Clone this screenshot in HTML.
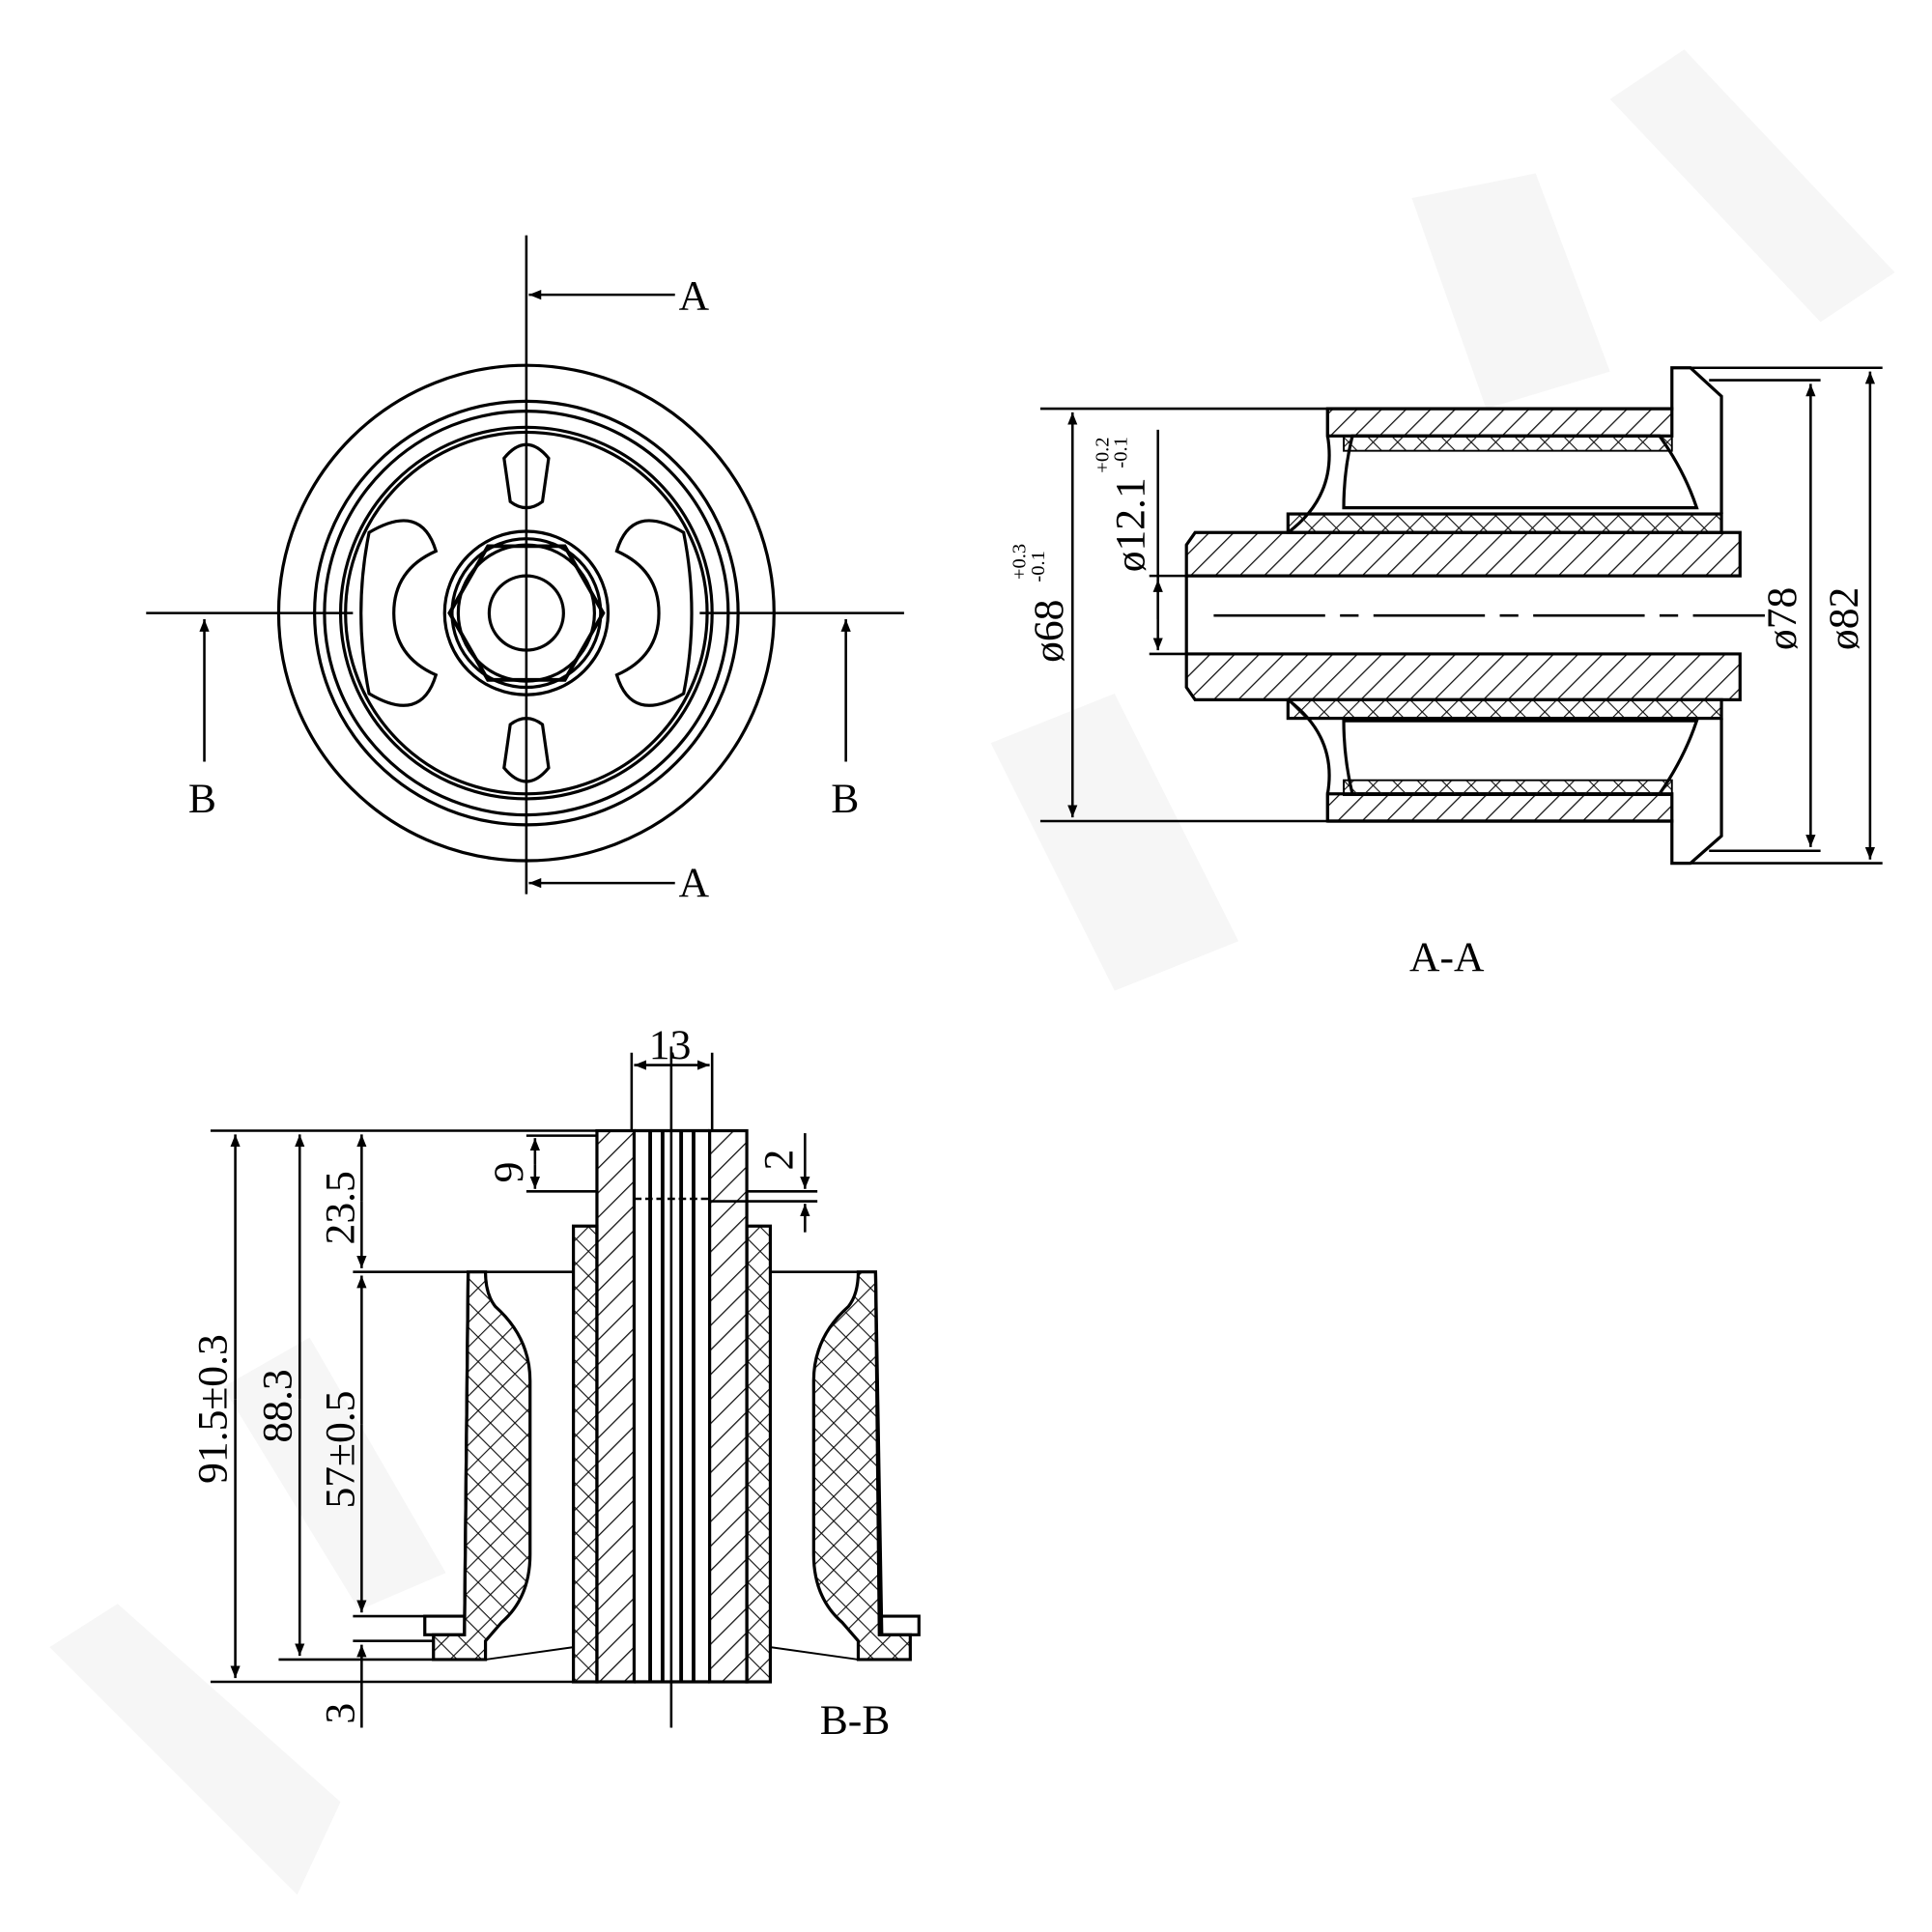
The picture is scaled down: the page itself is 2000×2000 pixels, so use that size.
<!DOCTYPE html>
<html><head><meta charset="utf-8"><style>html,body{margin:0;padding:0;background:#fff}svg{display:block}</style></head>
<body>
<svg width="2000" height="2000" viewBox="0 0 1560 1560" xmlns="http://www.w3.org/2000/svg" font-family="Liberation Serif, serif">
<defs>
<pattern id="h" width="14" height="14" patternUnits="userSpaceOnUse" patternTransform="rotate(45)"><line x1="0" y1="0" x2="0" y2="14" stroke="#111" stroke-width="2"/></pattern>
<pattern id="x" width="14" height="14" patternUnits="userSpaceOnUse" patternTransform="rotate(45)"><line x1="0" y1="0" x2="0" y2="14" stroke="#111" stroke-width="1.8"/><line x1="0" y1="0" x2="14" y2="0" stroke="#111" stroke-width="1.8"/></pattern>
<marker id="ar" markerWidth="10" markerHeight="8" refX="10" refY="4" orient="auto" markerUnits="userSpaceOnUse"><path d="M0,0 L10,4 L0,8Z" fill="#000"/></marker>
</defs>
<rect width="1560" height="1560" fill="#fff"/>
<!-- watermark -->
<g fill="#f6f6f6">
<polygon points="40,1330 95,1295 275,1455 240,1530"/>
<polygon points="180,1120 250,1080 360,1270 290,1300"/>
<polygon points="1300,80 1360,40 1530,220 1470,260"/>
<polygon points="800,600 900,560 1000,760 900,800"/>
<polygon points="1140,160 1240,140 1300,300 1200,330"/>
</g>
<g stroke="#000" fill="none" stroke-width="2.5">
<!-- FRONT VIEW -->
<circle cx="425" cy="495" r="200"/>
<circle cx="425" cy="495" r="171"/>
<circle cx="425" cy="495" r="163"/>
<circle cx="425" cy="495" r="150"/>
<circle cx="425" cy="495" r="146"/>
<polygon points="487,495 456,549 394,549 363,495 394,441 456,441" stroke-width="3"/>
<circle cx="425" cy="495" r="66"/>
<circle cx="425" cy="495" r="60"/>
<circle cx="425" cy="495" r="55"/>
<circle cx="425" cy="495" r="30"/>
<path d="M407,370 Q425,348 443,370 L438,405 Q425,415 412,405Z"/>
<path d="M407,620 Q425,642 443,620 L438,585 Q425,575 412,585Z"/>
<path d="M298,430 Q340,405 352,445 Q318,460 318,495 Q318,530 352,545 Q340,585 298,560 Q285,495 298,430Z"/>
<path d="M552,430 Q510,405 498,445 Q532,460 532,495 Q532,530 498,545 Q510,585 552,560 Q565,495 552,430Z"/>
<line x1="425" y1="190" x2="425" y2="722" stroke-width="2"/>
<line x1="118" y1="495" x2="285" y2="495" stroke-width="2"/>
<line x1="565" y1="495" x2="730" y2="495" stroke-width="2"/>
<line x1="545" y1="238" x2="427" y2="238" stroke-width="2" marker-end="url(#ar)"/>
<line x1="545" y1="713" x2="427" y2="713" stroke-width="2" marker-end="url(#ar)"/>
<line x1="165" y1="615" x2="165" y2="500" stroke-width="2" marker-end="url(#ar)"/>
<line x1="683" y1="615" x2="683" y2="500" stroke-width="2" marker-end="url(#ar)"/>

<!-- A-A SECTION -->
<path d="M1072,330 L1350,330 L1350,297 L1365,297 L1390,320 L1390,415"/>
<path d="M1072,663 L1350,663 L1350,697 L1365,697 L1390,675 L1390,580"/>
<line x1="1072" y1="330" x2="1072" y2="352"/>
<line x1="1072" y1="641" x2="1072" y2="663"/>
<rect x="1072" y="330" width="278" height="22" fill="url(#h)"/>
<rect x="1072" y="641" width="278" height="22" fill="url(#h)"/>
<path d="M1092,352 L1340,352 Q1360,380 1370,410 L1085,410 Q1085,380 1092,352Z"/>
<path d="M1092,641 L1340,641 Q1360,612 1370,582 L1085,582 Q1085,612 1092,641Z"/>
<path d="M1072,352 Q1080,400 1040,430"/>
<path d="M1072,641 Q1080,595 1040,565"/>
<rect x="1040" y="415" width="350" height="15" fill="url(#x)"/>
<rect x="1040" y="565" width="350" height="15" fill="url(#x)"/>
<rect x="1085" y="352" width="265" height="12" fill="url(#x)" stroke-width="1.5"/>
<rect x="1085" y="630" width="265" height="12" fill="url(#x)" stroke-width="1.5"/>
<path d="M958,440 L965,430 L1405,430 L1405,465 L958,465Z" fill="url(#h)"/>
<path d="M958,528 L1405,528 L1405,565 L965,565 L958,555Z" fill="url(#h)"/>
<line x1="958" y1="465" x2="958" y2="528"/>
<line x1="980" y1="497" x2="1425" y2="497" stroke-width="2" stroke-dasharray="90,12,15,12"/>
<line x1="840" y1="330" x2="1072" y2="330" stroke-width="2"/>
<line x1="840" y1="663" x2="1072" y2="663" stroke-width="2"/>
<line x1="866" y1="500" x2="866" y2="333" stroke-width="2" marker-end="url(#ar)"/>
<line x1="866" y1="500" x2="866" y2="660" stroke-width="2" marker-end="url(#ar)"/>
<line x1="928" y1="465" x2="958" y2="465" stroke-width="2"/>
<line x1="928" y1="528" x2="958" y2="528" stroke-width="2"/>
<line x1="935" y1="347" x2="935" y2="525" stroke-width="2" marker-end="url(#ar)"/>
<line x1="935" y1="500" x2="935" y2="468" stroke-width="2" marker-end="url(#ar)"/>
<line x1="1365" y1="297" x2="1520" y2="297" stroke-width="2"/>
<line x1="1365" y1="697" x2="1520" y2="697" stroke-width="2"/>
<line x1="1380" y1="307" x2="1470" y2="307" stroke-width="2"/>
<line x1="1380" y1="687" x2="1470" y2="687" stroke-width="2"/>
<line x1="1510" y1="500" x2="1510" y2="300" stroke-width="2" marker-end="url(#ar)"/>
<line x1="1510" y1="500" x2="1510" y2="694" stroke-width="2" marker-end="url(#ar)"/>
<line x1="1462" y1="500" x2="1462" y2="310" stroke-width="2" marker-end="url(#ar)"/>
<line x1="1462" y1="500" x2="1462" y2="684" stroke-width="2" marker-end="url(#ar)"/>

<!-- B-B SECTION -->
<rect x="482" y="913" width="30" height="445" fill="url(#h)"/>
<rect x="573" y="913" width="30" height="445" fill="url(#h)"/>
<line x1="512" y1="913" x2="573" y2="913"/>
<line x1="512" y1="1358" x2="573" y2="1358"/>
<line x1="525" y1="913" x2="525" y2="1358" stroke-width="3"/>
<line x1="535" y1="913" x2="535" y2="1358" stroke-width="3"/>
<line x1="550" y1="913" x2="550" y2="1358" stroke-width="3"/>
<line x1="560" y1="913" x2="560" y2="1358" stroke-width="3"/>
<line x1="512" y1="968" x2="573" y2="968" stroke-width="2" stroke-dasharray="6,3"/>
<rect x="463" y="990" width="19" height="368" fill="url(#x)"/>
<rect x="603" y="990" width="19" height="368" fill="url(#x)"/>
<path d="M378,1027 L392,1027 Q392,1045 400,1055 Q428,1080 428,1115 L428,1255 Q428,1290 405,1310 L392,1325 L392,1340 L350,1340 L350,1320 L375,1320Z" fill="url(#x)"/>
<path d="M707,1027 L693,1027 Q693,1045 685,1055 Q657,1080 657,1115 L657,1255 Q657,1290 680,1310 L693,1325 L693,1340 L735,1340 L735,1320 L710,1320Z" fill="url(#x)"/>
<path d="M378,1027 L375,1320 L343,1320 L343,1305 L375,1305"/>
<path d="M707,1027 L712,1320 L742,1320 L742,1305 L712,1305"/>
<line x1="392" y1="1340" x2="463" y2="1330" stroke-width="1.5"/>
<line x1="693" y1="1340" x2="622" y2="1330" stroke-width="1.5"/>
<line x1="622" y1="1027" x2="707" y2="1027" stroke-width="2"/>
<line x1="542" y1="845" x2="542" y2="1395" stroke-width="2"/>
<line x1="170" y1="913" x2="603" y2="913" stroke-width="2"/>
<line x1="170" y1="1358" x2="463" y2="1358" stroke-width="2"/>
<line x1="225" y1="1340" x2="350" y2="1340" stroke-width="2"/>
<line x1="285" y1="1027" x2="463" y2="1027" stroke-width="2"/>
<line x1="285" y1="1325" x2="350" y2="1325" stroke-width="2"/>
<line x1="285" y1="1305" x2="343" y2="1305" stroke-width="2"/>
<line x1="190" y1="1130" x2="190" y2="916" stroke-width="2" marker-end="url(#ar)"/>
<line x1="190" y1="1130" x2="190" y2="1355" stroke-width="2" marker-end="url(#ar)"/>
<line x1="242" y1="1130" x2="242" y2="916" stroke-width="2" marker-end="url(#ar)"/>
<line x1="242" y1="1130" x2="242" y2="1337" stroke-width="2" marker-end="url(#ar)"/>
<line x1="292" y1="970" x2="292" y2="916" stroke-width="2" marker-end="url(#ar)"/>
<line x1="292" y1="970" x2="292" y2="1024" stroke-width="2" marker-end="url(#ar)"/>
<line x1="292" y1="1150" x2="292" y2="1030" stroke-width="2" marker-end="url(#ar)"/>
<line x1="292" y1="1150" x2="292" y2="1302" stroke-width="2" marker-end="url(#ar)"/>
<line x1="292" y1="1395" x2="292" y2="1328" stroke-width="2" marker-end="url(#ar)"/>
<line x1="425" y1="917" x2="482" y2="917" stroke-width="2"/>
<line x1="425" y1="962" x2="482" y2="962" stroke-width="2"/>
<line x1="432" y1="940" x2="432" y2="919" stroke-width="2" marker-end="url(#ar)"/>
<line x1="432" y1="940" x2="432" y2="960" stroke-width="2" marker-end="url(#ar)"/>
<line x1="603" y1="962" x2="660" y2="962" stroke-width="2"/>
<line x1="573" y1="970" x2="660" y2="970" stroke-width="2"/>
<line x1="650" y1="915" x2="650" y2="960" stroke-width="2" marker-end="url(#ar)"/>
<line x1="650" y1="995" x2="650" y2="972" stroke-width="2" marker-end="url(#ar)"/>
<line x1="510" y1="850" x2="510" y2="913" stroke-width="2"/>
<line x1="575" y1="850" x2="575" y2="913" stroke-width="2"/>
<line x1="542" y1="860" x2="512" y2="860" stroke-width="2" marker-end="url(#ar)"/>
<line x1="542" y1="860" x2="573" y2="860" stroke-width="2" marker-end="url(#ar)"/>
</g>
<g fill="#000" font-size="34">
<text x="548" y="250">A</text>
<text x="548" y="724">A</text>
<text x="152" y="656">B</text>
<text x="671" y="656">B</text>
<text x="1138" y="784">A-A</text>
<text x="662" y="1400">B-B</text>
<text x="524" y="855">13</text>
<text transform="translate(422,955) rotate(-90)">9</text>
<text transform="translate(640,945) rotate(-90)">2</text>
<text transform="translate(286,1005) rotate(-90)">23.5</text>
<text transform="translate(183,1198) rotate(-90)">91.5±0.3</text>
<text transform="translate(235,1165) rotate(-90)">88.3</text>
<text transform="translate(286,1218) rotate(-90)">57±0.5</text>
<text transform="translate(286,1392) rotate(-90)">3</text>
<text transform="translate(858,535) rotate(-90)">ø68</text>
<text font-size="16" transform="translate(828,468) rotate(-90)">+0.3</text>
<text font-size="16" transform="translate(843,470) rotate(-90)">-0.1</text>
<text transform="translate(924,462) rotate(-90)">ø12.1</text>
<text font-size="16" transform="translate(895,382) rotate(-90)">+0.2</text>
<text font-size="16" transform="translate(910,378) rotate(-90)">-0.1</text>
<text transform="translate(1450,525) rotate(-90)">ø78</text>
<text transform="translate(1500,525) rotate(-90)">ø82</text>
</g>
</svg>
</body></html>
